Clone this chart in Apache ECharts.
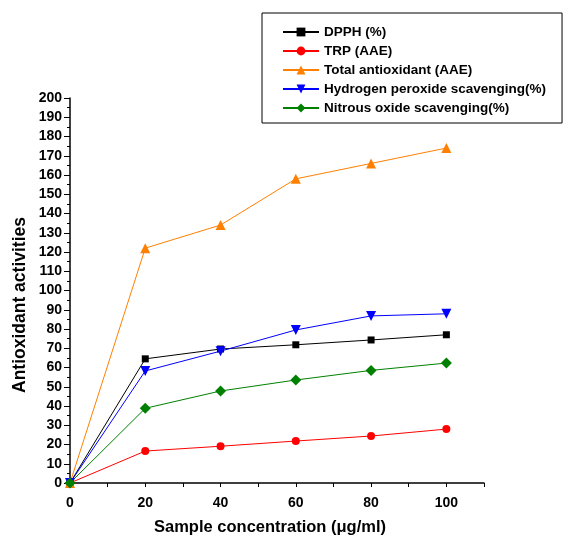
<!DOCTYPE html>
<html><head><meta charset="utf-8">
<script src="https://cdn.jsdelivr.net/npm/echarts@6/dist/echarts.min.js"></script>
<style>html,body{margin:0;padding:0;background:#fff}#c{width:563px;height:537px}</style>
</head><body><div id="c"></div>
<script>
const xValues = [0, 20, 40, 60, 80, 100];
const dpph = [0, 64.5, 69.6, 71.8, 74.3, 77];
const trp = [0, 16.6, 19.1, 21.8, 24.4, 28];
const totalAntioxidant = [0, 122, 134, 158, 166, 174];
const hydrogenPeroxide = [0, 58.2, 68.5, 79.5, 86.8, 87.9];
const nitrousOxide = [0, 38.8, 47.8, 53.5, 58.5, 62.3];
const seriesNames = ['DPPH (%)', 'TRP (AAE)', 'Total antioxidant (AAE)', 'Hydrogen peroxide scavenging(%)', 'Nitrous oxide scavenging(%)'];
const xTitle = 'Sample concentration (μg/ml)';
const yTitle = 'Antioxidant activities';

const font = 'Liberation Sans, Arial, sans-serif';
function pts(arr){ return xValues.map((x,i)=>[x, arr[i]]); }
function mk(name, data, color, symbol, size, rot){
  return {name, type:'line', data: pts(data), symbol, symbolSize:size, symbolRotate: rot||0,
    showSymbol:true, lineStyle:{color, width:1}, itemStyle:{color}, z: 3, animation:false};
}
const chart = echarts.init(document.getElementById('c'), null, {renderer:'canvas'});
chart.setOption({
  backgroundColor:'#fff',
  animation:false,
  grid:{left:70, right:79, top:98, bottom:54, outerBoundsMode:'none', containLabel:false},
  legend:{
    orient:'vertical', left:262, top:13,
    padding:[12, 16, 8, 20],
    borderColor:'#000', borderWidth:1,
    itemWidth:36, itemHeight:11, itemGap:5,
    textStyle:{fontFamily:font, fontWeight:'bold', fontSize:13.5, color:'#000'},
    data: seriesNames
  },
  graphic:[
    {type:'text', left:'center', top:0, style:{text:''}},
    {type:'text', x:270, y:527, style:{text:xTitle, fontFamily:font, fontWeight:'bold', fontSize:16.5, fill:'#000', align:'center', verticalAlign:'middle'}},
    {type:'text', x:20, y:305, rotation:Math.PI/2, style:{text:yTitle, fontFamily:font, fontWeight:'bold', fontSize:17.5, fill:'#000', align:'center', verticalAlign:'middle'}}
  ],
  xAxis:{
    type:'value', min:0, max:110, interval:10,
    axisLine:{show:true, lineStyle:{color:'#000', width:1.5}},
    axisTick:{show:true, length:4, lineStyle:{color:'#000'}},
    axisLabel:{fontFamily:font, fontWeight:'bold', fontSize:14, color:'#000', margin:13,
      formatter:v=> (v%20===0 && v<=100) ? String(v) : ''},
    splitLine:{show:false}
  },
  yAxis:{
    type:'value', min:0, max:200, interval:10,
    axisLine:{show:true, lineStyle:{color:'#000', width:1.5}},
    axisTick:{show:true, length:6, lineStyle:{color:'#000'}},
    minorTick:{show:true, splitNumber:2, length:3, lineStyle:{color:'#000'}},
    axisLabel:{fontFamily:font, fontWeight:'bold', fontSize:14, color:'#000', margin:8},
    splitLine:{show:false}
  },
  series:[
    mk(seriesNames[0], dpph, '#000000', 'rect', 7),
    mk(seriesNames[1], trp, '#ff0000', 'circle', 8),
    mk(seriesNames[2], totalAntioxidant, '#ff8000', 'triangle', 10),
    mk(seriesNames[3], hydrogenPeroxide, '#0000ff', 'triangle', 10, 180),
    mk(seriesNames[4], nitrousOxide, '#008000', 'diamond', 11)
  ]
});
</script></body></html>
